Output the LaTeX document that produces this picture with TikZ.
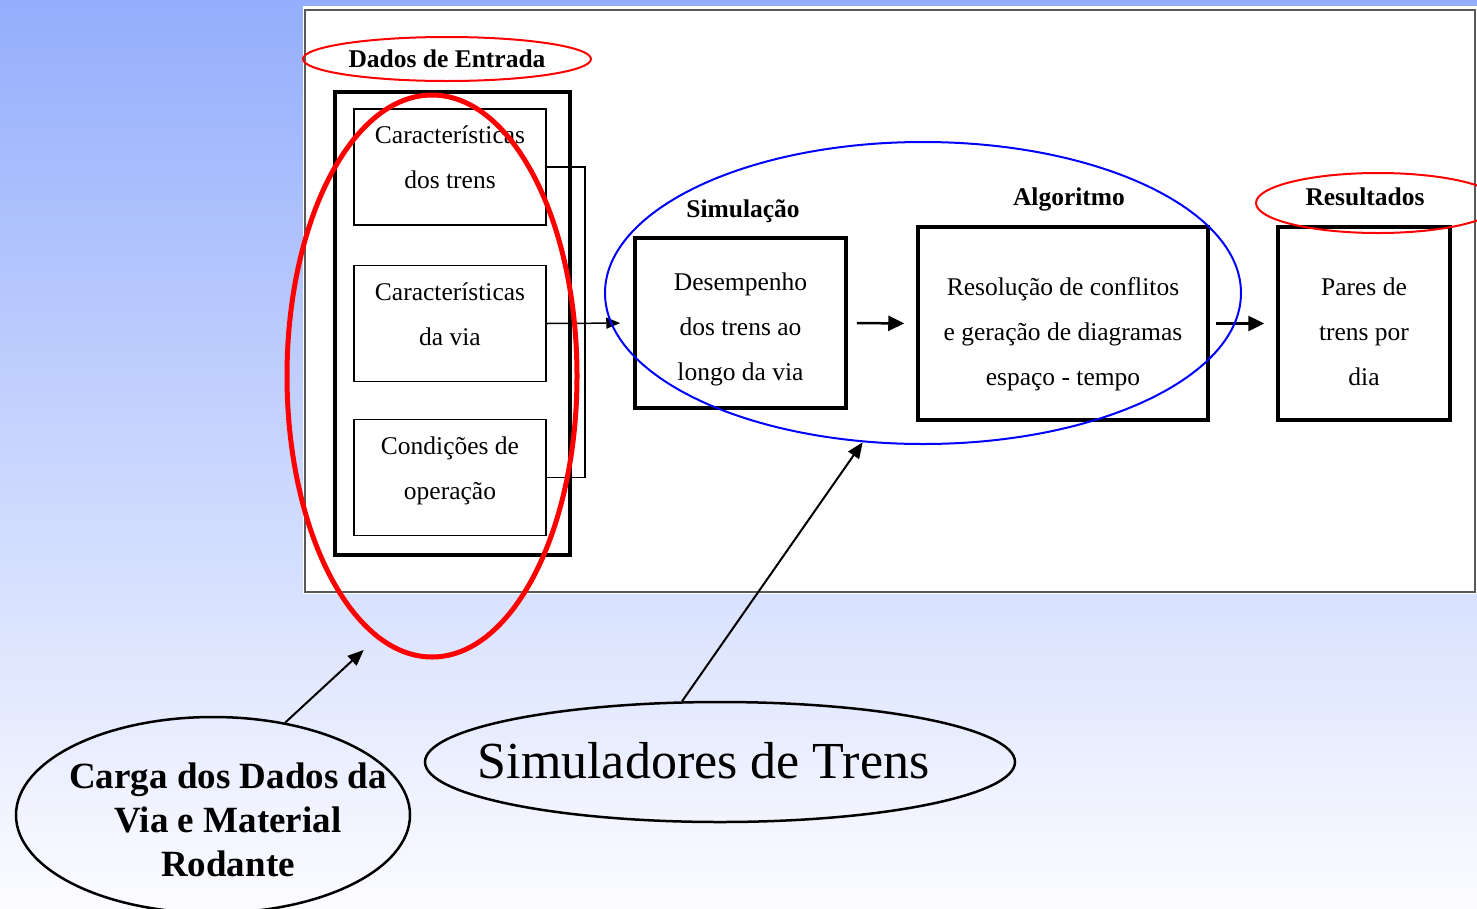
\documentclass[tikz,border=0pt]{standalone}
\usepackage{fontspec}
\setmainfont{Liberation Serif}
\usetikzlibrary{shapes.geometric, arrows.meta, positioning, calc}
\definecolor{slidetop}{RGB}{148,174,252}
\definecolor{slidemid}{RGB}{216,225,255}
\definecolor{slidebot}{RGB}{252,252,255}

\begin{document}
\begin{tikzpicture}[x=1pt, y=-1pt,
  txt/.style={font=\fontsize{25.5}{45}\selectfont, align=center},
  head/.style={font=\bfseries\fontsize{25.5}{28}\selectfont, anchor=base},
  inbox/.style={draw, line width=1.5pt, minimum width=192pt, minimum height=116pt},
  stepbox/.style={draw, line width=3.5pt},
  ring/.style={ellipse, draw=red, line width=2pt},
  callout/.style={ellipse, draw, line width=2.5pt},
  flow/.style={line width=2.5pt, -{Triangle[length=16pt, width=15pt]}},
  feed/.style={line width=1.5pt, -{Triangle[length=14pt, width=11pt]}},
  pointer/.style={line width=2pt, -{Triangle[length=16pt, width=13pt]}}
]
% slide background and white frame
\shade[top color=slidetop, middle color=slidemid, bottom color=slidebot] (0,0) rectangle (1477,908);
\useasboundingbox (0,0) rectangle (1477,908);
\fill[white] (303,6) rectangle (1477,594);
\draw[black!65, line width=1.5pt] (305,10) rectangle (1475,592);

% input data
\node[ring, minimum width=288pt, minimum height=44pt] (entradaring) at (447,59) {};
\node[head] (entrada) at (447,67) {Dados de Entrada};
\node[draw, line width=4pt, minimum width=235pt, minimum height=463pt] (dados) at (452.5,323.5) {};
\node[inbox] (trens) at (450,167) {};
\node[inbox] (via) at (450,323.5) {};
\node[inbox] (oper) at (450,477.5) {};
\node[txt] (trenstxt) at (450,157) {Características\\dos trens};
\node[txt] (viatxt) at (450,314) {Características\\da via};
\node[txt] (opertxt) at (450,471) {Condições de\\operação};

% simulation, algorithm, results
\node[head] (simhead) at (743,217) {Simulação};
\node[stepbox, minimum width=211pt, minimum height=170pt] (sim) at (740.5,323) {};
\node[txt] (simtxt) at (740.5,329) {Desempenho\\dos trens ao\\longo da via};
\node[head] (alghead) at (1069,205) {Algoritmo};
\node[stepbox, minimum width=290pt, minimum height=193pt] (alg) at (1063,323.5) {};
\node[txt] (algtxt) at (1063,334) {Resolução de conflitos\\e geração de diagramas\\espaço - tempo};
\node[head] (reshead) at (1365,205) {Resultados};
\node[stepbox, minimum width=172pt, minimum height=193pt] (res) at (1364,323.5) {};
\node[txt] (restxt) at (1364,332) {Pares de\\trens por\\dia};
\node[ring, minimum width=244pt, minimum height=60pt] (resring) at (1378,203) {};

\draw[line width=1.5pt] (trens.east) -- ++(38,0) |- (oper.east);
\draw[feed, shorten >=13pt] (via.east) -- (sim.west);
\draw[flow, shorten <=9pt, shorten >=12pt] (sim.east) -- (alg.west);
\draw[flow, shorten <=6pt, shorten >=12pt] (alg.east) -- (res.west);

% grouping rings
\node[ellipse, draw=red, line width=5pt, minimum width=290pt, minimum height=562pt] (dadosgrp) at (432,376) {};
\node[ellipse, draw=blue, line width=2pt, minimum width=636pt, minimum height=302pt] (simgrp) at (923,293) {};

% callouts
\node[callout, minimum width=394pt, minimum height=196pt] (carga) at (213,815) {};
\node[font=\bfseries\fontsize{37}{44}\selectfont, align=center] (cargatxt) at (228,820) {Carga dos Dados da\\Via e Material\\Rodante};
\node[callout, minimum width=590pt, minimum height=120pt] (simtrens) at (720,762) {};
\node[font=\fontsize{52}{60}\selectfont] (simtrenstxt) at (703.5,761) {Simuladores de Trens};

\draw[pointer, shorten >=17pt] (carga.52) -- (dadosgrp.-102);
\draw[pointer] (simtrens.122) -- (simgrp.-112);
\end{tikzpicture}
\end{document}
